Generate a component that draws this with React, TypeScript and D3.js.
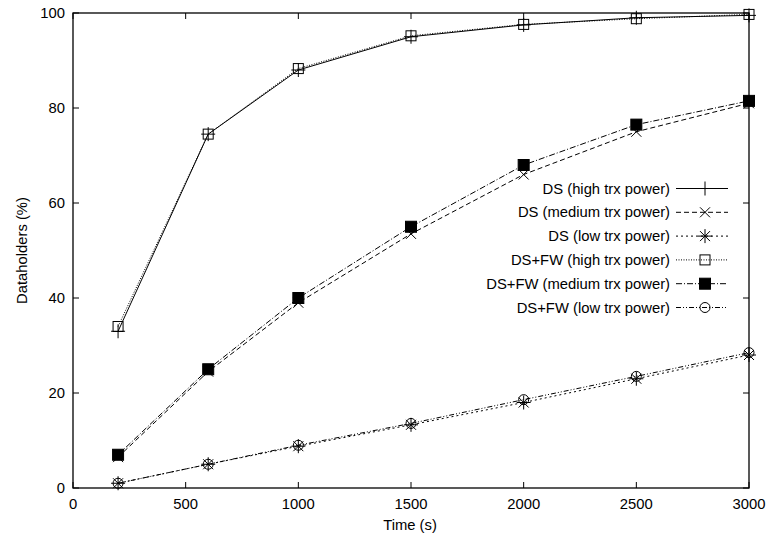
import React, { useEffect, useRef } from 'react';
import * as d3 from 'd3';

const times = [200, 600, 1000, 1500, 2000, 2500, 3000];
const dsHigh = [33, 74.5, 88, 95, 97.5, 99, 99.5];
const dsMedium = [6.5, 24.5, 39, 53.5, 66, 75, 81];
const dsLow = [1, 5, 8.8, 13.3, 18, 23, 28];
const fwHigh = [34, 74.5, 88.3, 95.2, 97.6, 98.8, 99.7];
const fwMedium = [7, 25, 40, 55, 68, 76.5, 81.5];
const fwLow = [1, 5, 9, 13.6, 18.6, 23.5, 28.5];
const xTicks = [0, 500, 1000, 1500, 2000, 2500, 3000];
const yTicks = [0, 20, 40, 60, 80, 100];

const series = [
  { name: 'DS (high trx power)', values: dsHigh, dash: null, mark: 'plus' },
  { name: 'DS (medium trx power)', values: dsMedium, dash: '5,3', mark: 'cross' },
  { name: 'DS (low trx power)', values: dsLow, dash: '2,3', mark: 'star' },
  { name: 'DS+FW (high trx power)', values: fwHigh, dash: '1,1.5', mark: 'box' },
  { name: 'DS+FW (medium trx power)', values: fwMedium, dash: '6,2,1,2', mark: 'fbox' },
  { name: 'DS+FW (low trx power)', values: fwLow, dash: '5,2,1,2,1,2', mark: 'circle' },
];

const drawMark = (g, kind, x, y) => {
  const s = 7;
  const p = g.append('g').attr('stroke', '#000').attr('stroke-width', 1).attr('fill', 'none');
  if (kind === 'plus' || kind === 'star') {
    p.append('path').attr('d', `M${x - s},${y}H${x + s}M${x},${y - s}V${y + s}`);
  }
  if (kind === 'cross' || kind === 'star') {
    const c = 5;
    p.append('path').attr('d', `M${x - c},${y - c}L${x + c},${y + c}M${x - c},${y + c}L${x + c},${y - c}`);
  }
  if (kind === 'box') p.append('rect').attr('x', x - 5).attr('y', y - 5).attr('width', 10).attr('height', 10);
  if (kind === 'fbox') p.append('rect').attr('x', x - 5.5).attr('y', y - 5.5).attr('width', 11).attr('height', 11).attr('fill', '#000');
  if (kind === 'circle') p.append('circle').attr('cx', x).attr('cy', y).attr('r', 5);
};

const App = () => {
  const svgRef = useRef();

  useEffect(() => {
    const svg = d3.select(svgRef.current);
    svg.selectAll('*').remove();

    const left = 73;
    const right = 749;
    const top = 13;
    const bottom = 488;
    const font = 'Liberation Sans, Arial, sans-serif';

    const x = d3.scaleLinear().domain([0, 3000]).range([left, right]);
    const y = d3.scaleLinear().domain([0, 100]).range([bottom, top]);

    const g = svg.append('g').attr('font-family', font).attr('font-size', 14.8);

    // ticks (mirrored, inward)
    xTicks.forEach((t) => {
      g.append('path').attr('d', `M${x(t)},${bottom}v-6M${x(t)},${top}v6`).attr('stroke', '#000');
      g.append('text').attr('x', x(t)).attr('y', bottom + 21).attr('text-anchor', 'middle').text(t);
    });
    yTicks.forEach((t) => {
      g.append('path').attr('d', `M${left},${y(t)}h6M${right},${y(t)}h-6`).attr('stroke', '#000');
      g.append('text').attr('x', left - 8).attr('y', y(t) + 5).attr('text-anchor', 'end').text(t);
    });

    g.append('rect')
      .attr('x', left).attr('y', top)
      .attr('width', right - left).attr('height', bottom - top)
      .attr('fill', 'none').attr('stroke', '#000').attr('stroke-width', 1.3);

    g.append('text').attr('x', 410).attr('y', 530).attr('text-anchor', 'middle').text('Time (s)');
    g.append('text')
      .attr('transform', `translate(27,${(top + bottom) / 2}) rotate(-90)`)
      .attr('text-anchor', 'middle').text('Dataholders (%)');

    const line = d3.line().x((d) => x(d[0])).y((d) => y(d[1]));

    series.forEach((s, i) => {
      const pts = times.map((t, j) => [t, s.values[j]]);
      g.append('path')
        .attr('d', line(pts))
        .attr('fill', 'none').attr('stroke', '#000').attr('stroke-width', 1)
        .attr('stroke-dasharray', s.dash);
      pts.forEach((p) => drawMark(g, s.mark, x(p[0]), y(p[1])));

      // legend entry
      const ly = 188.5 + i * 23.8;
      g.append('text').attr('x', 670).attr('y', ly + 5).attr('text-anchor', 'end').text(s.name);
      g.append('path').attr('d', `M676,${ly}H728`).attr('stroke', '#000').attr('stroke-dasharray', s.dash);
      drawMark(g, s.mark, 705, ly);
    });
  }, []);

  return <svg ref={svgRef} width={767} height={536} style={{ position: 'absolute', left: 0, top: 0 }}></svg>;
};

export default App;
